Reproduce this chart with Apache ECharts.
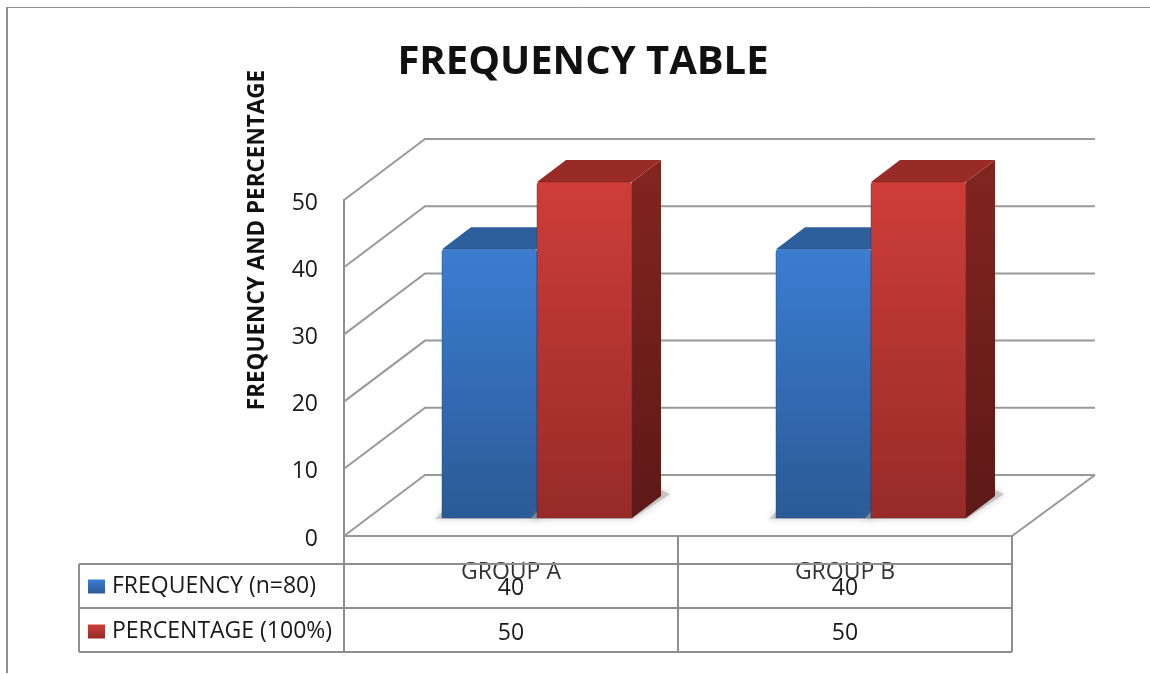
<!DOCTYPE html>
<html>
<head>
<meta charset="utf-8">
<style>
html, body { margin: 0; padding: 0; background: #fff; }
#main { width: 1150px; height: 674px; }
</style>
<script src="https://cdn.jsdelivr.net/npm/echarts@6/dist/echarts.min.js"></script>
</head>
<body>
<div id="main"></div>
<script>
const categories = ['GROUP A', 'GROUP B'];
const frequency = [40, 40];
const percentage = [50, 50];
const yTicks = [0, 10, 20, 30, 40, 50];

const chart = echarts.init(document.getElementById('main'), null, { renderer: 'canvas' });

const FONT = '"Open Sans", sans-serif';
const LINE = '#8e8e8e';

function vgrad(top, bottom) {
    return new echarts.graphic.LinearGradient(0, 0, 0, 1, [
        { offset: 0, color: top },
        { offset: 1, color: bottom }
    ]);
}

// back wall and left wall, the front plane of the "3d" box is the grid itself
function renderWalls(params, api) {
    const p = api.coord([0, api.value(0)]);
    const box = params.coordSys;
    const left = box.x, right = box.x + box.width;
    const y = p[1];
    const children = [{
        type: 'polyline',
        shape: { points: [[left, y], [left + 81, y - 61], [right + 83, y - 61]] },
        style: { fill: 'none', stroke: '#999', lineWidth: 2 }
    }];
    if (api.value(0) === 0) {
        children.push({
            type: 'polyline',
            shape: { points: [[left, y], [right, y], [right + 83, y - 61]] },
            style: { fill: 'none', stroke: '#999', lineWidth: 2 }
        });
    }
    return { type: 'group', children: children };
}

// one bar: shadow on the floor, right side, top and front
function makeBar(side, colors) {
    return function (params, api) {
        const band = api.size([1, 0])[0];
        const w = band * 0.2845;
        const base = api.coord([api.value(0), 0]);
        const top = api.coord([api.value(0), api.value(1)]);
        const x = base[0] + 26 + (side < 0 ? -w : 0);
        const y0 = base[1] - 18;
        const y1 = top[1] - 18;
        const h = y0 - y1;
        const dx = 29, dy = 22;
        return {
            type: 'group',
            children: [{
                type: 'polygon',
                shape: { points: [[x - 7, y0 + 1], [x + w, y0 + 1], [x + w + dx + 9, y0 - dy - 2], [x + w + dx, y0 - dy - 6], [x, y0 - 6]] },
                style: { fill: 'rgba(170,170,170,0.55)', shadowBlur: 7, shadowColor: 'rgba(130,130,130,0.7)' }
            }, {
                type: 'polygon',
                shape: { points: [[x + w, y1], [x + w + dx, y1 - dy], [x + w + dx, y0 - dy], [x + w, y0]] },
                style: { fill: vgrad(colors.sideTop, colors.sideBottom) }
            }, {
                type: 'polygon',
                shape: { points: [[x, y1], [x + dx, y1 - dy], [x + w + dx, y1 - dy], [x + w, y1]] },
                style: { fill: colors.cap }
            }, {
                type: 'rect',
                shape: { x: x, y: y1, width: w, height: h, r: [3, 3, 0, 0] },
                style: { fill: vgrad(colors.top, colors.bottom), stroke: colors.edge, lineWidth: 1 }
            }]
        };
    };
}

// data table under the axis: one column per category
function renderTable(params, api) {
    const i = api.value(0);
    const band = api.size([1, 0])[0];
    const c = api.coord([i, 0]);
    const x0 = c[0] - band / 2, x1 = c[0] + band / 2;
    const axisY = c[1];
    const rows = [axisY + 28, axisY + 72, axisY + 116];
    const line = function (a, b, d, e) {
        return { type: 'line', shape: { x1: a, y1: b, x2: d, y2: e }, style: { stroke: LINE, lineWidth: 2 } };
    };
    const cell = function (v, y) {
        return {
            type: 'text',
            style: { text: String(v), x: c[0], y: y, align: 'center', verticalAlign: 'middle', font: '23px ' + FONT, fill: '#1a1a1a' }
        };
    };
    const children = [
        line(x1, axisY, x1, rows[2]),
        line(x0, axisY, x0, rows[2]),
        line(x0, rows[0], x1, rows[0]),
        line(x0, rows[1], x1, rows[1]),
        line(x0, rows[2], x1, rows[2]),
        cell(frequency[i], axisY + 52),
        cell(percentage[i], axisY + 97)
    ];
    if (i === 0) {
        const lx = x0 - 265;
        children.push(line(lx, rows[0], x0, rows[0]), line(lx, rows[1], x0, rows[1]), line(lx, rows[2], x0, rows[2]), line(lx, rows[0], lx, rows[2]));
    }
    return { type: 'group', children: children };
}

const blue = { top: '#3b7dd2', bottom: '#2b5a96', cap: '#2c5f9b', edge: 'rgba(30,60,110,0.35)', sideTop: '#2a5a94', sideBottom: '#1d406e' };
const red = { top: '#ce3d38', bottom: '#962b28', cap: '#992b27', edge: 'rgba(110,25,25,0.4)', sideTop: '#82251f', sideBottom: '#5d1917' };

const option = {
    animation: false,
    backgroundColor: '#fff',
    title: {
        text: 'FREQUENCY TABLE',
        left: 578,
        top: 38,
        textAlign: 'center',
        textStyle: { fontFamily: FONT, fontWeight: 'bold', fontSize: 40, color: '#111' }
    },
    legend: {
        data: ['FREQUENCY (n=80)', 'PERCENTAGE (100%)'],
        orient: 'vertical',
        left: 88,
        top: 575,
        padding: 0,
        itemWidth: 17,
        itemHeight: 14,
        itemGap: 22,
        icon: 'rect',
        selectedMode: false,
        textStyle: { fontFamily: FONT, fontSize: 23, color: '#1a1a1a', padding: [0, 0, 0, 2] }
    },
    grid: { left: 344, top: 200, width: 668, height: 336 },
    xAxis: {
        type: 'category',
        data: categories,
        axisLine: { show: false },
        axisTick: { show: false },
        axisLabel: { margin: 25, fontFamily: FONT, fontSize: 23, color: '#333' }
    },
    yAxis: {
        type: 'value',
        min: 0,
        max: 50,
        interval: 10,
        splitLine: { show: false },
        axisTick: { show: false },
        axisLine: { show: true, lineStyle: { color: LINE, width: 2 } },
        axisLabel: { margin: 26, fontFamily: FONT, fontSize: 23, color: '#1a1a1a', verticalAlign: 'top', lineHeight: 6 }
    },
    graphic: [{
        type: 'line',
        shape: { x1: 7, y1: 7, x2: 7, y2: 673 },
        style: { stroke: '#8e8e8e', lineWidth: 2 }
    }, {
        type: 'line',
        shape: { x1: 7, y1: 7.5, x2: 1150, y2: 7.5 },
        style: { stroke: '#8e8e8e', lineWidth: 1 }
    }, {
        type: 'text',
        x: 258,
        y: 240,
        rotation: Math.PI / 2,
        style: { text: 'FREQUENCY AND PERCENTAGE', align: 'center', verticalAlign: 'middle', font: 'bold 22.5px ' + FONT, fill: '#111' }
    }],
    series: [{
        name: 'walls',
        type: 'custom',
        z: 1,
        silent: true,
        renderItem: renderWalls,
        data: yTicks.map(function (t) { return [t]; }),
        encode: { y: 0 }
    }, {
        name: 'FREQUENCY (n=80)',
        type: 'custom',
        z: 3,
        itemStyle: { color: vgrad(blue.top, blue.bottom) },
        renderItem: makeBar(-1, blue),
        data: frequency.map(function (v, i) { return [i, v]; }),
        encode: { x: 0, y: 1 }
    }, {
        name: 'PERCENTAGE (100%)',
        type: 'custom',
        z: 4,
        itemStyle: { color: vgrad(red.top, red.bottom) },
        renderItem: makeBar(1, red),
        data: percentage.map(function (v, i) { return [i, v]; }),
        encode: { x: 0, y: 1 }
    }, {
        name: 'table',
        type: 'custom',
        z: 2,
        silent: true,
        renderItem: renderTable,
        data: categories.map(function (c, i) { return [i]; }),
        encode: { x: 0 }
    }]
};

chart.setOption(option);
</script>
</body>
</html>
